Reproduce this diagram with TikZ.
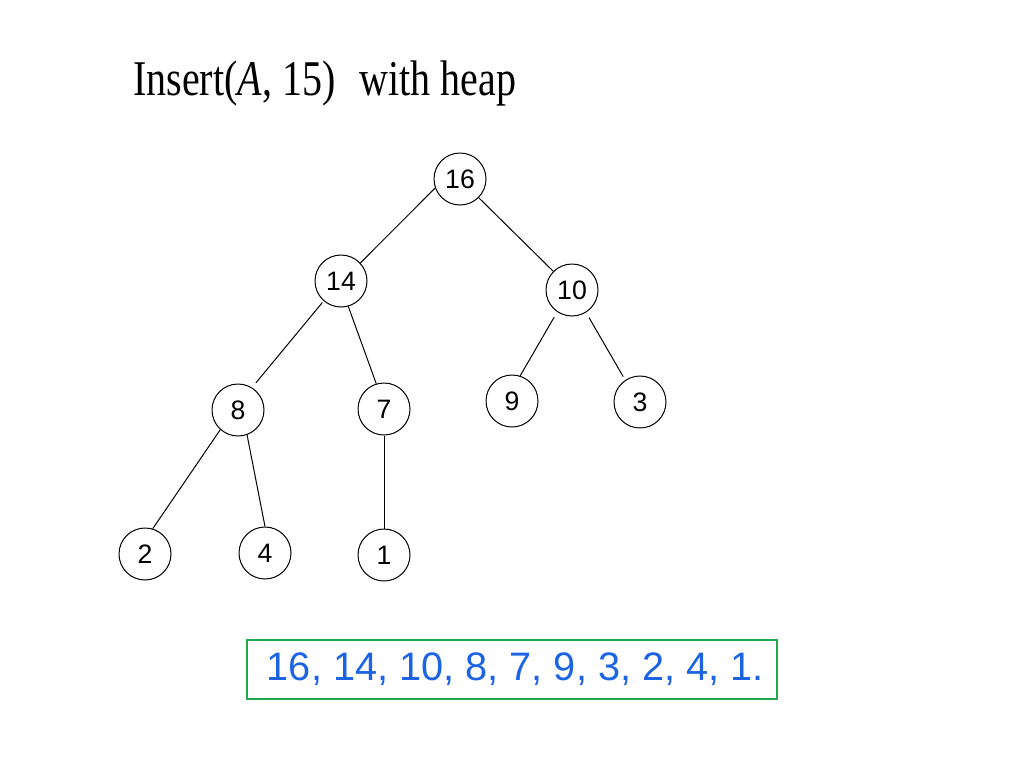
\documentclass[tikz,border=0pt]{standalone}
\usepackage{fontspec}
\setmainfont{Liberation Serif}
\newfontfamily\arialfont{Liberation Sans}
\definecolor{boxgreen}{RGB}{34,168,78}
\definecolor{seqblue}{RGB}{28,100,228}
\begin{document}
\begin{tikzpicture}[x=0.75pt,y=-0.75pt,
  heapnode/.style={circle,draw=black,line width=0.75pt,minimum size=39pt,inner sep=0pt,
    font=\arialfont\fontsize{20}{23}\selectfont},
  edge/.style={draw=black,line width=0.75pt}]
\useasboundingbox[fill=white] (0,0) rectangle (1024,768);

\node[anchor=base west,inner sep=0pt] (title) at (133,95)
  {\scalebox{0.80}[1]{\fontsize{37.5}{42}\selectfont Insert(\textit{A}, 15)\hspace{0.6em}with heap}};

\node[heapnode] (n16) at (460,179) {16};
\node[heapnode] (n14) at (341,281) {14};
\node[heapnode] (n10) at (572,290) {10};
\node[heapnode] (n8)  at (238,410) {8};
\node[heapnode] (n7)  at (384,409) {7};
\node[heapnode] (n9)  at (512,401) {9};
\node[heapnode] (n3)  at (640,402) {3};
\node[heapnode] (n2)  at (145,554) {2};
\node[heapnode] (n4)  at (265,553) {4};
\node[heapnode] (n1)  at (384,555) {1};

\draw[edge] (n16.200) -- (n14.43);
\draw[edge] (n16.315) -- (n10.135);
\draw[edge,shorten <=1.5pt,shorten >=4.5pt] (n14.229) -- (n8.58);
\draw[edge] (n14.286) -- (n7.107);
\draw[edge] (n8.228) -- (n2.73);
\draw[edge] (n8.290) -- (n4.90);
\draw[edge] (n7.270) -- (n1.90);
\draw[edge,shorten <=4.5pt] (n10.236) -- (n9.72);
\draw[edge,shorten <=4.5pt,shorten >=3pt] (n10.302) -- (n3.124);

\node[draw=boxgreen,line width=1.9pt,minimum width=397.5pt,minimum height=44.25pt,
  inner sep=0pt,text=seqblue,font=\arialfont\fontsize{29.8}{34}\selectfont]
  (seq) at (512,669.5) {\raisebox{-2pt}{\hspace{5pt}16, 14, 10, 8, 7, 9, 3, 2, 4, 1.}};
\end{tikzpicture}
\end{document}
